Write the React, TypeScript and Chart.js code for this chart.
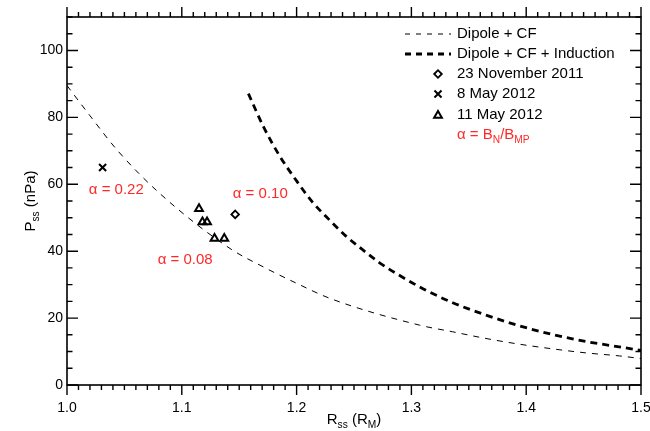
import React, { useEffect, useRef } from 'react';
import { Chart, registerables } from 'chart.js';

Chart.register(...registerables);

const FONT = "'Liberation Sans', Arial, Helvetica, sans-serif";
const RED = 'rgb(255, 40, 40)';
const TEXT_SIZE = 15;

// Axis ranges / ticks
const X_MIN = 1.0;
const X_MAX = 1.5;
const X_MAJOR = 0.1;
const X_MINOR = 0.01;
const Y_MIN = 0;
const Y_MAX = 110;
const Y_MAJOR = 20;
const Y_MINOR = 5;

// Dipole + CF (thin dashed)
const dipoleR = [1.0, 1.02, 1.044, 1.081, 1.142, 1.171, 1.2, 1.229, 1.307, 1.336, 1.365, 1.394, 1.423, 1.452, 1.481, 1.5];
const dipoleP = [89.5, 80.5, 70.1, 57.2, 40.8, 35.3, 30.4, 25.9, 17.9, 15.9, 13.9, 12.2, 10.8, 9.6, 8.7, 7.9];

// Dipole + CF + Induction (thick dashed)
const inductR = [1.158, 1.171, 1.185, 1.2, 1.214, 1.229, 1.243, 1.258, 1.272, 1.287, 1.31, 1.336, 1.365, 1.394, 1.423, 1.452, 1.481, 1.5];
const inductP = [87.1, 77.3, 68.6, 61.0, 54.6, 49.2, 44.5, 40.3, 36.6, 33.3, 28.8, 24.6, 20.9, 17.7, 15.1, 13.0, 11.4, 10.3];

// Events
const nov23R = [1.1465];
const nov23P = [51.0];
const may8R = [1.031];
const may8P = [65.0];
const may11R = [1.115, 1.118, 1.122, 1.1285, 1.137];
const may11P = [52.7, 48.7, 48.7, 43.8, 43.8];

// Annotations (left edge, vertical centre in data units)
const alphaText = ['α = 0.22', 'α = 0.10', 'α = 0.08'];
const alphaR = [1.019, 1.1444, 1.079];
const alphaP = [58.2, 57.2, 37.3];

const legendLabels = ['Dipole + CF', 'Dipole + CF + Induction', '23 November 2011', '8 May 2012', '11 May 2012'];

const toPts = (xs: number[], ys: number[]) => xs.map((x, i) => ({ x, y: ys[i] }));

type Part = [string, boolean];

function richWidth(ctx: CanvasRenderingContext2D, parts: Part[], size: number) {
  let w = 0;
  for (const [t, sub] of parts) {
    ctx.font = `${sub ? size * 0.68 : size}px ${FONT}`;
    w += ctx.measureText(t).width;
  }
  return w;
}

function drawRich(ctx: CanvasRenderingContext2D, parts: Part[], x: number, y: number, size: number) {
  let cx = x;
  ctx.textBaseline = 'middle';
  ctx.textAlign = 'left';
  for (const [t, sub] of parts) {
    ctx.font = `${sub ? size * 0.68 : size}px ${FONT}`;
    ctx.fillText(t, cx, sub ? y + size * 0.32 : y);
    cx += ctx.measureText(t).width;
  }
}

function diamond(ctx: CanvasRenderingContext2D, x: number, y: number, r: number) {
  ctx.beginPath();
  ctx.moveTo(x - r, y);
  ctx.lineTo(x, y - r);
  ctx.lineTo(x + r, y);
  ctx.lineTo(x, y + r);
  ctx.closePath();
  ctx.stroke();
}
function crossRot(ctx: CanvasRenderingContext2D, x: number, y: number, r: number) {
  const o = Math.SQRT1_2 * r;
  ctx.beginPath();
  ctx.moveTo(x - o, y - o);
  ctx.lineTo(x + o, y + o);
  ctx.moveTo(x - o, y + o);
  ctx.lineTo(x + o, y - o);
  ctx.stroke();
}
function triangle(ctx: CanvasRenderingContext2D, x: number, y: number, r: number) {
  ctx.beginPath();
  ctx.moveTo(x, y - r);
  ctx.lineTo(x + Math.sin((2 * Math.PI) / 3) * r, y + 0.5 * r);
  ctx.lineTo(x - Math.sin((2 * Math.PI) / 3) * r, y + 0.5 * r);
  ctx.closePath();
  ctx.stroke();
}

const decorPlugin = {
  id: 'decor',
  afterDraw(chart: any) {
    const { ctx, chartArea: a, scales } = chart;
    const xs = scales.x;
    const ys = scales.y;
    ctx.save();
    ctx.strokeStyle = '#000';
    ctx.setLineDash([]);
    // frame
    ctx.lineWidth = 1.6;
    ctx.strokeRect(a.left, a.top, a.right - a.left, a.bottom - a.top);
    // ticks
    ctx.lineWidth = 1.4;
    ctx.beginPath();
    const nx = Math.round((X_MAX - X_MIN) / X_MINOR);
    const per = Math.round(X_MAJOR / X_MINOR);
    for (let i = 0; i <= nx; i++) {
      const px = xs.getPixelForValue(X_MIN + i * X_MINOR);
      const len = i % per === 0 ? 10 : 5;
      ctx.moveTo(px, a.bottom);
      ctx.lineTo(px, a.bottom + len);
      ctx.moveTo(px, a.top);
      ctx.lineTo(px, a.top - len);
    }
    for (let v = Y_MIN; v <= Y_MAX; v += Y_MINOR) {
      const py = ys.getPixelForValue(v);
      const len = v % Y_MAJOR === 0 ? 11 : 5.5;
      ctx.moveTo(a.left, py);
      ctx.lineTo(a.left + len, py);
      ctx.moveTo(a.right, py);
      ctx.lineTo(a.right - len, py);
    }
    ctx.stroke();

    // annotations
    ctx.fillStyle = RED;
    ctx.font = `${TEXT_SIZE}px ${FONT}`;
    ctx.textBaseline = 'middle';
    ctx.textAlign = 'left';
    alphaText.forEach((t, i) => {
      ctx.fillText(t, xs.getPixelForValue(alphaR[i]), ys.getPixelForValue(alphaP[i]));
    });

    // legend
    const lx0 = 405;
    const lx1 = 451;
    const tx = 457;
    const mx = 438;
    const rows = [34, 54, 74, 94, 114.5, 135];
    ctx.fillStyle = '#000';
    ctx.strokeStyle = '#000';
    ctx.lineWidth = 1;
    ctx.setLineDash([5, 6]);
    ctx.beginPath();
    ctx.moveTo(lx0, rows[0]);
    ctx.lineTo(lx1, rows[0]);
    ctx.stroke();
    ctx.lineWidth = 2.8;
    ctx.setLineDash([6, 5]);
    ctx.beginPath();
    ctx.moveTo(lx0, rows[1]);
    ctx.lineTo(lx1, rows[1]);
    ctx.stroke();
    ctx.setLineDash([]);
    ctx.lineWidth = 1.8;
    diamond(ctx, mx, rows[2], 3.8);
    ctx.lineWidth = 2;
    crossRot(ctx, mx, rows[3], 5);
    triangle(ctx, mx, rows[4] + 1, 4.5);
    ctx.font = `${TEXT_SIZE}px ${FONT}`;
    ctx.textBaseline = 'middle';
    legendLabels.forEach((t, i) => ctx.fillText(t, tx, rows[i]));
    ctx.fillStyle = RED;
    drawRich(ctx, [['α = B', false], ['N', true], ['/B', false], ['MP', true]], tx, rows[5], TEXT_SIZE);

    // axis titles
    ctx.fillStyle = '#000';
    const xt: Part[] = [['R', false], ['ss', true], [' (R', false], ['M', true], [')', false]];
    const xw = richWidth(ctx, xt, TEXT_SIZE);
    drawRich(ctx, xt, (a.left + a.right) / 2 - xw / 2, 420, TEXT_SIZE);
    const yt: Part[] = [['P', false], ['ss', true], [' (nPa)', false]];
    const yw = richWidth(ctx, yt, TEXT_SIZE);
    ctx.translate(31, 201);
    ctx.rotate(-Math.PI / 2);
    drawRich(ctx, yt, -yw / 2, 0, TEXT_SIZE);
    ctx.restore();
  },
};

export default function App() {
  const ref = useRef<HTMLCanvasElement | null>(null);
  useEffect(() => {
    if (!ref.current) return;
    const tickFont = { family: FONT, size: 14 };
    const chart = new Chart(ref.current, {
      type: 'line',
      data: {
        datasets: [
          {
            label: 'Dipole + CF',
            data: toPts(dipoleR, dipoleP),
            borderColor: '#000',
            borderWidth: 1,
            borderDash: [6, 6],
            pointRadius: 0,
            cubicInterpolationMode: 'monotone',
            fill: false,
          },
          {
            label: 'Dipole + CF + Induction',
            data: toPts(inductR, inductP),
            borderColor: '#000',
            borderWidth: 2.8,
            borderDash: [7, 5],
            pointRadius: 0,
            cubicInterpolationMode: 'monotone',
            fill: false,
          },
          {
            label: '23 November 2011',
            data: toPts(nov23R, nov23P),
            showLine: false,
            pointStyle: 'rectRot',
            pointRadius: 3.8,
            pointBorderWidth: 1.8,
            pointBorderColor: '#000',
            pointBackgroundColor: 'rgba(0,0,0,0)',
          },
          {
            label: '8 May 2012',
            data: toPts(may8R, may8P),
            showLine: false,
            pointStyle: 'crossRot',
            pointRadius: 5,
            pointBorderWidth: 2,
            pointBorderColor: '#000',
            pointBackgroundColor: 'rgba(0,0,0,0)',
          },
          {
            label: '11 May 2012',
            data: toPts(may11R, may11P),
            showLine: false,
            pointStyle: 'triangle',
            pointRadius: 4.5,
            pointBorderWidth: 2,
            pointBorderColor: '#000',
            pointBackgroundColor: 'rgba(0,0,0,0)',
          },
        ],
      },
      options: {
        responsive: false,
        animation: false,
        devicePixelRatio: 1,
        layout: { padding: { top: 17, right: 9, left: 0, bottom: 0 } },
        plugins: { legend: { display: false }, tooltip: { enabled: false } },
        scales: {
          x: {
            type: 'linear',
            min: X_MIN,
            max: X_MAX,
            grid: { display: false, drawTicks: false },
            border: { display: false },
            ticks: {
              stepSize: X_MAJOR,
              includeBounds: false,
              autoSkip: false,
              maxRotation: 0,
              padding: 15,
              color: '#000',
              font: tickFont,
              callback: (v: any) => Number(v).toFixed(1),
            },
            afterFit: (s: any) => {
              s.height = 46;
              s.paddingLeft = 0;
              s.paddingRight = 0;
            },
          },
          y: {
            type: 'linear',
            min: Y_MIN,
            max: Y_MAX,
            grid: { display: false, drawTicks: false },
            border: { display: false },
            ticks: {
              stepSize: Y_MAJOR,
              includeBounds: false,
              autoSkip: false,
              padding: 4,
              color: '#000',
              font: tickFont,
            },
            afterFit: (s: any) => {
              s.width = 67;
              s.paddingTop = 0;
              s.paddingBottom = 0;
            },
          },
        },
      },
      plugins: [decorPlugin],
    } as any);
    return () => chart.destroy();
  }, []);
  return (
    <div style={{ position: 'fixed', left: 0, top: 0, width: 650, height: 431, background: '#fff' }}>
      <canvas ref={ref} width={650} height={431} />
    </div>
  );
}
